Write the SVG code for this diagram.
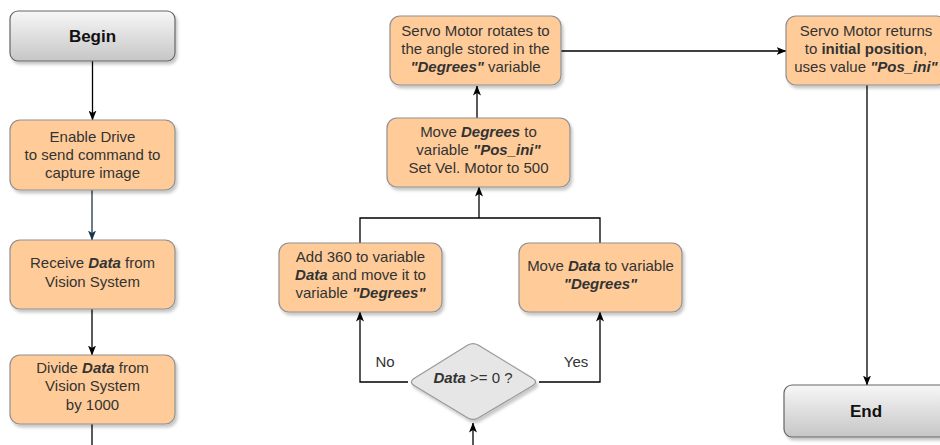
<svg xmlns="http://www.w3.org/2000/svg" width="940" height="445" viewBox="0 0 940 445">
<defs>
<linearGradient id="gray" x1="0" y1="0" x2="0" y2="1">
<stop offset="0" stop-color="#f7f7f7"/>
<stop offset="1" stop-color="#c6c6c6"/>
</linearGradient>
<filter id="sh" x="-10%" y="-10%" width="130%" height="140%">
<feDropShadow dx="2" dy="3" stdDeviation="1.5" flood-color="#000" flood-opacity="0.22"/>
</filter>
<marker id="ar" viewBox="0 0 10 8" markerWidth="10" markerHeight="8" refX="9.5" refY="4" orient="auto" markerUnits="userSpaceOnUse">
<path d="M0,0 L10,4 L0,8 L2.5,4 z" fill="#000"/>
</marker>
<marker id="arb" viewBox="0 0 10 8" markerWidth="10" markerHeight="8" refX="9.5" refY="4" orient="auto" markerUnits="userSpaceOnUse">
<path d="M0,0 L10,4 L0,8 L2.5,4 z" fill="#1d3549"/>
</marker>
</defs>
<style>
text{font-family:"Liberation Sans",Arial,sans-serif;font-size:15px;fill:#333;text-anchor:middle}
.t{font-weight:bold;font-size:17px;fill:#111}
.bi{font-weight:bold;font-style:italic}
.b{font-weight:bold}
.i{font-style:italic}
.op{fill:#ffcc99;stroke:#8f8f8f;stroke-width:1.2;filter:url(#sh)}
.gr{fill:url(#gray);stroke:#666;stroke-width:1.2;filter:url(#sh)}
.dm{fill:#e6e6e6;stroke:#999;stroke-width:1.2;stroke-linejoin:round;filter:url(#sh)}
.c{fill:none;stroke:#000;stroke-width:1.3}
.cb{fill:none;stroke:#1d3549;stroke-width:1.3}
</style>
<g id="connectors">
<path class="c" d="M92.5,61 V120" marker-end="url(#ar)"/>
<path class="cb" d="M92,190 V240" marker-end="url(#arb)"/>
<path class="c" d="M92,309 V355" marker-end="url(#ar)"/>
<path class="c" d="M92,424 V445"/>
<path class="c" d="M473,445 V423" marker-end="url(#ar)"/>
<path class="c" d="M408,382 H360 V312" marker-end="url(#ar)"/>
<path class="c" d="M539,382 H600 V312" marker-end="url(#ar)"/>
<path class="c" d="M360,243 V218 H600 V243"/>
<path class="c" d="M479,218 V187" marker-end="url(#ar)"/>
<path class="c" d="M477,118 V86" marker-end="url(#ar)"/>
<path class="c" d="M561,51 H786" marker-end="url(#ar)"/>
<path class="c" d="M867,85 V385" marker-end="url(#ar)"/>
</g>
<g id="begin">
<rect class="gr" x="10" y="11" width="165" height="50" rx="8"/>
<text class="t" x="92.5" y="42">Begin</text>
</g>
<g id="enable">
<rect class="op" x="10" y="120" width="165" height="70" rx="10"/>
<text x="92.5" y="142">Enable Drive</text>
<text x="92.5" y="160">to send command to</text>
<text x="92.5" y="178">capture image</text>
</g>
<g id="receive">
<rect class="op" x="10" y="240" width="165" height="69" rx="10"/>
<text x="92.5" y="268">Receive <tspan class="bi">Data</tspan> from</text>
<text x="92.5" y="287">Vision System</text>
</g>
<g id="divide">
<rect class="op" x="10" y="355" width="165" height="69" rx="10"/>
<text x="92.5" y="373">Divide <tspan class="bi">Data</tspan> from</text>
<text x="92.5" y="391">Vision System</text>
<text x="92.5" y="410">by 1000</text>
</g>
<g id="decision">
<path class="dm" d="M467.9,345.1 Q473,342 478.1,345.1 L532.2,377.9 Q539,382 532.1,386.1 L478.2,418 Q473,421 467.9,417.9 L414.8,386.1 Q408,382 414.8,377.9 Z"/>
<text x="473" y="383"><tspan class="bi">Data</tspan> &gt;= 0 ?</text>
</g>
<g id="label-no"><text x="385" y="367">No</text></g>
<g id="label-yes"><text x="576" y="367">Yes</text></g>
<g id="add360">
<rect class="op" x="279" y="243" width="163" height="69" rx="10"/>
<text x="360.5" y="262">Add 360 to variable</text>
<text x="360.5" y="280"><tspan class="bi">Data</tspan> and move it to</text>
<text x="360.5" y="298">variable <tspan class="bi">"Degrees"</tspan></text>
</g>
<g id="movedata">
<rect class="op" x="519" y="243" width="163" height="69" rx="10"/>
<text x="600.5" y="271">Move <tspan class="bi">Data</tspan> to variable</text>
<text x="600.5" y="289"><tspan class="bi">"Degrees"</tspan></text>
</g>
<g id="movedegrees">
<rect class="op" x="387" y="118" width="183" height="69" rx="10"/>
<text x="478.5" y="137">Move <tspan class="bi">Degrees</tspan> to</text>
<text x="478.5" y="155">variable <tspan class="bi">"Pos_ini"</tspan></text>
<text x="478.5" y="173">Set Vel. Motor to 500</text>
</g>
<g id="rotate">
<rect class="op" x="390" y="16" width="171" height="69" rx="10"/>
<text x="475.5" y="36">Servo Motor rotates to</text>
<text x="475.5" y="54">the angle stored in the</text>
<text x="475.5" y="72"><tspan class="bi">"Degrees"</tspan> variable</text>
</g>
<g id="returns">
<rect class="op" x="786" y="16" width="161" height="69" rx="10"/>
<text x="866" y="36">Servo Motor returns</text>
<text x="866" y="54">to <tspan class="b">initial position</tspan>,</text>
<text x="866" y="72">uses value <tspan class="bi">"Pos_ini"</tspan></text>
</g>
<g id="end">
<rect class="gr" x="784" y="385" width="164" height="52" rx="8"/>
<text class="t" x="866" y="417">End</text>
</g>
</svg>
